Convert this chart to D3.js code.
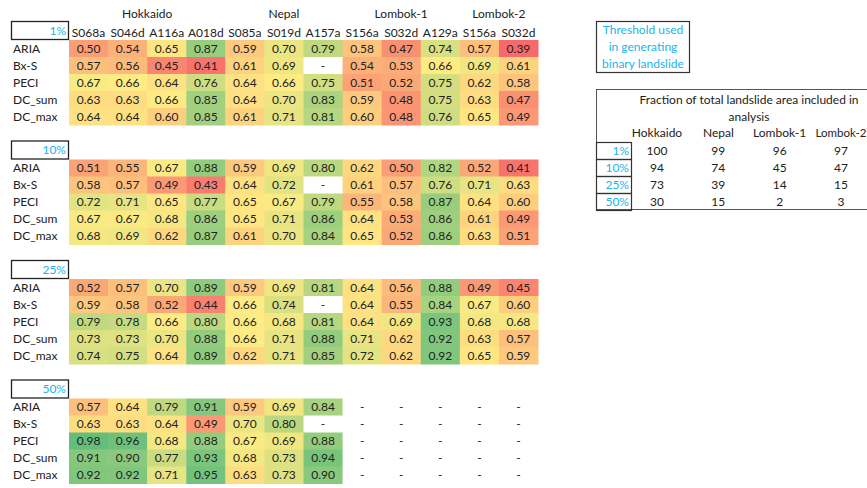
<!DOCTYPE html>
<html>
<head>
<meta charset="utf-8">
<script src="https://cdn.jsdelivr.net/npm/d3@7"></script>
<style>
  body { margin: 0; background: #fff; }
  text { font-family: Lato, "Liberation Sans", sans-serif; font-size: 12px; fill: #222; }
</style>
</head>
<body>
<div id="table"></div>
<script>
// Heat table: landslide mapping scores per method, track and threshold

const sites = ["Hokkaido", "Nepal", "Lombok-1", "Lombok-2"];
const siteCols = [4, 3, 3, 2];
const tracks = ["S068a", "S046d", "A116a", "A018d", "S085a", "S019d", "A157a", "S156a", "S032d", "A129a", "S156a", "S032d"];
const methods = ["ARIA", "Bx-S", "PECI", "DC_sum", "DC_max"];
const thresholds = ["1%", "10%", "25%", "50%"];

// null = "-"
const scores1 = [
    [0.50, 0.54, 0.65, 0.87, 0.59, 0.70, 0.79, 0.58, 0.47, 0.74, 0.57, 0.39],
    [0.57, 0.56, 0.45, 0.41, 0.61, 0.69, null, 0.54, 0.53, 0.66, 0.69, 0.61],
    [0.67, 0.66, 0.64, 0.76, 0.64, 0.66, 0.75, 0.51, 0.52, 0.75, 0.62, 0.58],
    [0.63, 0.63, 0.66, 0.85, 0.64, 0.70, 0.83, 0.59, 0.48, 0.75, 0.63, 0.47],
    [0.64, 0.64, 0.60, 0.85, 0.61, 0.71, 0.81, 0.60, 0.48, 0.76, 0.65, 0.49]
];
const scores10 = [
    [0.51, 0.55, 0.67, 0.88, 0.59, 0.69, 0.80, 0.62, 0.50, 0.82, 0.52, 0.41],
    [0.58, 0.57, 0.49, 0.43, 0.64, 0.72, null, 0.61, 0.57, 0.76, 0.71, 0.63],
    [0.72, 0.71, 0.65, 0.77, 0.65, 0.67, 0.79, 0.55, 0.58, 0.87, 0.64, 0.60],
    [0.67, 0.67, 0.68, 0.86, 0.65, 0.71, 0.86, 0.64, 0.53, 0.86, 0.61, 0.49],
    [0.68, 0.69, 0.62, 0.87, 0.61, 0.70, 0.84, 0.65, 0.52, 0.86, 0.63, 0.51]
];
const scores25 = [
    [0.52, 0.57, 0.70, 0.89, 0.59, 0.69, 0.81, 0.64, 0.56, 0.88, 0.49, 0.45],
    [0.59, 0.58, 0.52, 0.44, 0.66, 0.74, null, 0.64, 0.55, 0.84, 0.67, 0.60],
    [0.79, 0.78, 0.66, 0.80, 0.66, 0.68, 0.81, 0.64, 0.69, 0.93, 0.68, 0.68],
    [0.73, 0.73, 0.70, 0.88, 0.66, 0.71, 0.88, 0.71, 0.62, 0.92, 0.63, 0.57],
    [0.74, 0.75, 0.64, 0.89, 0.62, 0.71, 0.85, 0.72, 0.62, 0.92, 0.65, 0.59]
];
const scores50 = [
    [0.57, 0.64, 0.79, 0.91, 0.59, 0.69, 0.84, null, null, null, null, null],
    [0.63, 0.63, 0.64, 0.49, 0.70, 0.80, null, null, null, null, null, null],
    [0.98, 0.96, 0.68, 0.88, 0.67, 0.69, 0.88, null, null, null, null, null],
    [0.91, 0.90, 0.77, 0.93, 0.68, 0.73, 0.94, null, null, null, null, null],
    [0.92, 0.92, 0.71, 0.95, 0.63, 0.73, 0.90, null, null, null, null, null]
];
const sections = [scores1, scores10, scores25, scores50];

// fraction of total landslide area included in analysis
const fracHokkaido = [100, 94, 73, 30];
const fracNepal = [99, 74, 39, 15];
const fracLombok1 = [96, 45, 14, 2];
const fracLombok2 = [97, 47, 15, 3];

const cyan = "#1cb3ee";
const W = 867, H = 488;

const svg = d3.select("#table")
    .append("svg")
    .attr("width", W)
    .attr("height", H);

const x = d3.scaleBand()
    .domain(d3.range(tracks.length))
    .range([69, 538]);

const yRow = d3.scaleBand()
    .domain(methods)
    .range([0, 85]);

const ySec = d3.scaleLinear()
    .domain([0, thresholds.length - 1])
    .range([40, 398.5]);

// one colour scale for the whole table (Excel style red-yellow-green)
const allVals = sections.flat(2).filter(v => v !== null);
const color = d3.scaleLinear()
    .domain([d3.min(allVals), d3.median(allVals), d3.max(allVals)])
    .range(["#F8696B", "#FFEB84", "#63BE7B"]);

// site headers
let start = 0;
sites.forEach((s, i) => {
    const x0 = x(start), x1 = x(start + siteCols[i] - 1) + x.bandwidth();
    svg.append("text")
        .attr("x", (x0 + x1) / 2)
        .attr("y", 14)
        .attr("dy", "0.35em")
        .attr("text-anchor", "middle")
        .text(s);
    start += siteCols[i];
});

// track headers
svg.selectAll("text.track")
    .data(tracks)
    .enter()
    .append("text")
    .attr("class", "track")
    .attr("x", (d, i) => x(i) + x.bandwidth() / 2)
    .attr("y", 32.5)
    .attr("dy", "0.35em")
    .attr("text-anchor", "middle")
    .text(d => d);

sections.forEach((rows, si) => {
    const g = svg.append("g")
        .attr("transform", `translate(0,${ySec(si)})`);

    // threshold box
    g.append("rect")
        .attr("x", 11.5)
        .attr("y", -18.5)
        .attr("width", 57)
        .attr("height", 18)
        .attr("fill", "#fff")
        .attr("stroke", "#222")
        .attr("stroke-width", 1.3);
    g.append("text")
        .attr("x", 66)
        .attr("y", -9.5)
        .attr("dy", "0.35em")
        .attr("text-anchor", "end")
        .style("fill", cyan)
        .text(thresholds[si]);

    methods.forEach((m, ri) => {
        const ry = yRow(m);
        g.append("text")
            .attr("x", 13)
            .attr("y", ry + yRow.bandwidth() / 2)
            .attr("dy", "0.35em")
            .text(m);

        const cells = g.selectAll(`g.r${ri}`)
            .data(rows[ri])
            .enter()
            .append("g")
            .attr("transform", (d, i) => `translate(${x(i)},${ry})`);

        cells.append("rect")
            .attr("width", x.bandwidth() + 0.5)
            .attr("height", yRow.bandwidth() + 0.5)
            .attr("fill", d => d === null ? "#fff" : color(d));

        cells.append("text")
            .attr("x", x.bandwidth() / 2)
            .attr("y", yRow.bandwidth() / 2)
            .attr("dy", "0.35em")
            .attr("text-anchor", "middle")
            .text(d => d === null ? "-" : d.toFixed(2));
    });
});

// threshold note box
const note = svg.append("g");
note.append("rect")
    .attr("x", 596.5).attr("y", 21.5)
    .attr("width", 93).attr("height", 51)
    .attr("fill", "#fff")
    .attr("stroke", "#333")
    .attr("stroke-width", 1.2);
["Threshold used", "in generating", "binary landslide"].forEach((t, i) => {
    note.append("text")
        .attr("x", 643)
        .attr("y", 30 + i * 17)
        .attr("dy", "0.35em")
        .attr("text-anchor", "middle")
        .style("fill", cyan)
        .text(t);
});

// fraction table
const frac = svg.append("g");
const fx = d3.scalePoint()
    .domain(sites)
    .range([657, 841]);
const fy = d3.scaleBand()
    .domain(thresholds)
    .range([142, 210]);

frac.append("rect")
    .attr("x", 596.5).attr("y", 89.5)
    .attr("width", 290).attr("height", 120)
    .attr("fill", "none")
    .attr("stroke", "#555")
    .attr("stroke-width", 1);

frac.append("text")
    .attr("x", 749).attr("y", 100).attr("dy", "0.35em")
    .attr("text-anchor", "middle")
    .text("Fraction of total landslide area included in");
frac.append("text")
    .attr("x", 749).attr("y", 117).attr("dy", "0.35em")
    .attr("text-anchor", "middle")
    .text("analysis");

frac.selectAll("text.site")
    .data(sites)
    .enter()
    .append("text")
    .attr("x", d => fx(d))
    .attr("y", 133)
    .attr("dy", "0.35em")
    .attr("text-anchor", "middle")
    .style("font-size", d => d === "Lombok-2" ? "11.5px" : null)
    .text(d => d);

const fracCols = [fracHokkaido, fracNepal, fracLombok1, fracLombok2];
thresholds.forEach((t, i) => {
    frac.append("rect")
        .attr("x", 596.5).attr("y", fy(t) + 0.5)
        .attr("width", 35).attr("height", fy.bandwidth())
        .attr("fill", "none")
        .attr("stroke", "#333")
        .attr("stroke-width", 1.2);
    frac.append("text")
        .attr("x", 629)
        .attr("y", fy(t) + fy.bandwidth() / 2)
        .attr("dy", "0.35em")
        .attr("text-anchor", "end")
        .style("fill", cyan)
        .text(t);
    fracCols.forEach((col, j) => {
        frac.append("text")
            .attr("x", fx(sites[j]))
            .attr("y", fy(t) + fy.bandwidth() / 2)
            .attr("dy", "0.35em")
            .attr("text-anchor", "middle")
            .text(col[i]);
    });
});
</script>
</body>
</html>
